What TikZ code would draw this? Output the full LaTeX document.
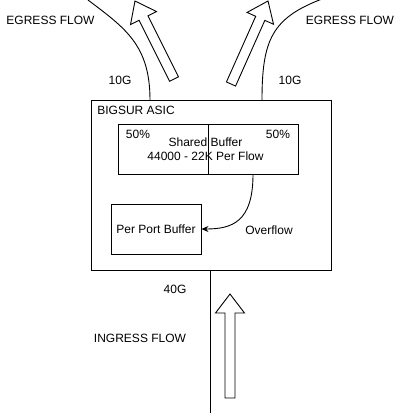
\documentclass[tikz,border=0pt]{standalone}
\usepackage{fontspec}
\setmainfont{Liberation Sans}
\usetikzlibrary{arrows.meta}
\begin{document}
\begin{tikzpicture}[x=1pt,y=1pt,line width=0.9pt,
  every node/.style={font=\fontsize{12}{14}\selectfont,inner sep=0pt},
  boxnode/.style={draw,rectangle,minimum width=#1},
  lbl/.style={anchor=center},
]
\useasboundingbox (0,0) rectangle (401,-416);
\newcommand{\hollowarrow}[4]{%
  \begin{scope}[shift={(#1,#2)},rotate=#3]
    \draw[line join=miter] (0,-5) -- (#4-19,-5) -- (#4-19,-14.5) -- (#4,0) -- (#4-19,14.5) -- (#4-19,5) -- (0,5) -- cycle;
  \end{scope}}
% boxes
\node[draw,minimum width=240pt,minimum height=170pt] (asic) at (211,-185) {};
\node[draw,minimum width=90pt,minimum height=50pt] (sbL) at (163,-149) {};
\node[draw,minimum width=90pt,minimum height=50pt] (sbR) at (253,-149) {};
\node[draw,minimum width=90pt,minimum height=50pt] (ppb) at (156,-229) {Per Port Buffer};
% texts
\node[lbl] (bigsur) at (136,-110) {BIGSUR ASIC};
\node[lbl] (pL) at (138,-134) {50\%};
\node[lbl] (pR) at (278,-134) {50\%};
\node[lbl,align=center] (sbtext) at (205.5,-149.5) {Shared Buffer\\[0pt]44000 - 22K Per Flow};
\node[lbl] (ovf) at (269,-230) {Overflow};
\node[lbl] (egL) at (50.5,-20) {EGRESS FLOW};
\node[lbl] (egR) at (350,-20) {EGRESS FLOW};
\node[lbl] (tgL) at (120,-80) {10G};
\node[lbl] (tgR) at (290,-80) {10G};
\node[lbl] (fg) at (175,-289) {40G};
\node[lbl] (ing) at (140,-338) {INGRESS FLOW};
% connectors
\coordinate (lt) at (150,-100);
\coordinate (le) at (88,0);
\coordinate (rt) at (262,-100);
\coordinate (re) at (322,1);
\coordinate (bt) at (210,-270);
\coordinate (be) at (210,-413);
\draw (lt) .. controls (150,-45) and (125,-28) .. (le);
\draw (rt) .. controls (262,-40) and (272,-18) .. (re);
\draw (bt) -- (be);
\draw[-{Stealth[length=7pt,width=6pt]}] (sbR.south) .. controls (253,-222) and (232,-229) .. (ppb.east);
% hollow arrows
\hollowarrow{174}{-79}{116.57}{87.2}
\hollowarrow{231}{-84}{65.97}{90.9}
\hollowarrow{230}{-398}{90}{104}
\end{tikzpicture}
\end{document}
